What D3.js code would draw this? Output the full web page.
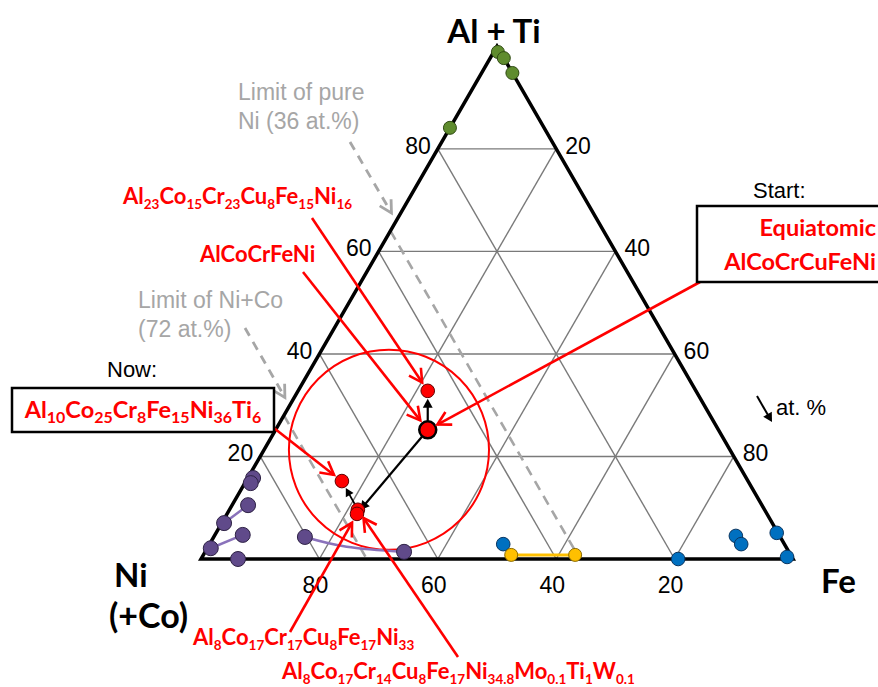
<!DOCTYPE html>
<html>
<head>
<meta charset="utf-8">
<script src="https://cdnjs.cloudflare.com/ajax/libs/d3/7.8.5/d3.min.js"></script>
<style>
  body { margin: 0; background: #fff; }
  svg { display: block; }
</style>
</head>
<body>
<div id="container"></div>
<script>
// every composition is [Ni(+Co), Fe, Al+Ti] in at.%
const ticks = [20, 40, 60, 80];
const greenPts = [[0.4, 0.7, 98.9], [0, 2.3, 97.7], [0, 5.2, 94.8], [15.9, 0, 84.1]];
const purplePts = [[83.3, 0.9, 15.8], [84.2, 1.0, 14.8], [86.8, 2.7, 10.5], [92.6, 0.4, 7.0],
                   [90.6, 4.7, 4.7], [97.3, 0.6, 2.1], [93.75, 6.25, 0], [80.3, 15.4, 4.3], [65, 33.6, 1.4]];
const purpleLines = [
  [[92.6, 0.4, 7.0], [86.8, 2.7, 10.5]],
  [[97.3, 0.6, 2.1], [90.6, 4.7, 4.7]],
  [[80.3, 15.4, 4.3], [74.2, 23.4, 2.4], [65, 33.6, 1.4]]
];
const bluePts = [[19.4, 80.6, 0], [7.4, 88.1, 4.5], [7.3, 89.8, 2.9], [0.2, 94.7, 5.1], [0.8, 98.8, 0.4], [47.5, 49.6, 2.9]];
const yellowPts = [[47.2, 52.0, 0.8], [36.4, 62.8, 0.8]];
// red alloys: Al23.., Al10.. (now), Al8..Cr14.., Al8..Cr17..
const redPts = [[45.3, 21.9, 32.8], [68.6, 16.2, 15.2], [68.7, 21.7, 9.6], [69.25, 21.95, 8.8]];
const startPt = [49.1, 25.7, 25.2];  // equiatomic AlCoCrCuFeNi
const circleCentre = [57.6, 21.1, 21.3];
const circleRadius = 16.9;           // at.% along an edge
const niLimits = [36, 72];
const limitText = [["Limit of pure", "Ni (36 at.%)"], ["Limit of Ni+Co", "(72 at.%)"]];

const w = 878, h = 687;
const x0 = 201, x1 = 793, yBase = 559;
const side = x1 - x0;
const xScale = d3.scaleLinear().domain([0, 100]).range([x0, x1]);
const yScale = d3.scaleLinear().domain([0, 100]).range([yBase, yBase - side * Math.sqrt(3) / 2]);
const proj = (c) => [xScale(c[1] + c[2] / 2), yScale(c[2])];

const svg = d3.select("#container").append("svg").attr("width", w).attr("height", h);

// grid
const grid = [];
ticks.forEach(v => {
  grid.push([[100 - v, 0, v], [0, 100 - v, v]]);        // Al+Ti const
  grid.push([[100 - v, v, 0], [0, v, 100 - v]]);        // Fe const
  grid.push([[v, 100 - v, 0], [v, 0, 100 - v]]);        // Ni const
});
svg.append("g").selectAll("line").data(grid).enter().append("line")
  .attr("x1", d => proj(d[0])[0]).attr("y1", d => proj(d[0])[1])
  .attr("x2", d => proj(d[1])[0]).attr("y2", d => proj(d[1])[1])
  .attr("stroke", "#7a7a7a").attr("stroke-width", 1.4);

// limit lines (dashed)
svg.append("g").selectAll("line").data(niLimits).enter().append("line")
  .attr("x1", d => proj([d, 0, 100 - d])[0]).attr("y1", d => proj([d, 0, 100 - d])[1])
  .attr("x2", d => proj([d, 100 - d, 0])[0]).attr("y2", d => proj([d, 100 - d, 0])[1])
  .attr("stroke", "#a6a6a6").attr("stroke-width", 2.6).attr("stroke-dasharray", "10,7");

// triangle
const tri = [[100, 0, 0], [0, 100, 0], [0, 0, 100]].map(proj);
svg.append("path").attr("d", "M" + tri.join("L") + "Z")
  .attr("fill", "none").attr("stroke", "#000").attr("stroke-width", 3.5);

// tick labels
const tickG = svg.append("g").attr("font-family", "'Liberation Sans', Arial, sans-serif")
  .attr("font-size", 23).attr("fill", "#000");
tickG.selectAll(".tl").data(ticks).enter().append("text")
  .attr("x", d => proj([100 - d, 0, d])[0] - 7).attr("y", d => proj([100 - d, 0, d])[1] + 5)
  .attr("text-anchor", "end").text(d => d);
tickG.selectAll(".tr").data(ticks).enter().append("text")
  .attr("x", d => proj([0, d, 100 - d])[0] + 9).attr("y", d => proj([0, d, 100 - d])[1] + 5)
  .attr("text-anchor", "start").text(d => d);
tickG.selectAll(".tb").data(ticks).enter().append("text")
  .attr("x", d => proj([d, 100 - d, 0])[0] - 4).attr("y", yBase + 34)
  .attr("text-anchor", "middle").text(d => d);

// corner labels
const corner = svg.append("g").attr("font-family", "Lato, sans-serif").attr("font-weight", "bold")
  .attr("font-size", 33).attr("fill", "#000");
corner.append("text").attr("x", 494).attr("y", 43).attr("text-anchor", "middle").text("Al + Ti");
corner.append("text").attr("x", 114).attr("y", 587).text("Ni");
corner.append("text").attr("x", 109).attr("y", 628).attr("font-size", 34).text("(+Co)");
corner.append("text").attr("x", 821).attr("y", 593).text("Fe");

// red circle
svg.append("circle").attr("cx", proj(circleCentre)[0]).attr("cy", proj(circleCentre)[1])
  .attr("r", xScale(circleRadius) - xScale(0))
  .attr("fill", "none").attr("stroke", "#ff0000").attr("stroke-width", 2);

// series lines
const line = d3.line().x(d => proj(d)[0]).y(d => proj(d)[1]).curve(d3.curveNatural);
svg.append("g").selectAll("path").data(purpleLines).enter().append("path")
  .attr("d", line).attr("fill", "none").attr("stroke", "#8a72bb").attr("stroke-width", 2.5);
svg.append("path").attr("d", line(yellowPts)).attr("fill", "none")
  .attr("stroke", "#ffc000").attr("stroke-width", 3);

function dots(data, r, fill, stroke) {
  svg.append("g").selectAll("circle").data(data).enter().append("circle")
    .attr("cx", d => proj(d)[0]).attr("cy", d => proj(d)[1]).attr("r", r)
    .attr("fill", fill).attr("stroke", stroke).attr("stroke-width", 1);
}
dots(greenPts, 6.5, "#5f8c2e", "#2f4a12");
dots(purplePts, 7.5, "#604a8a", "#2e2245");
dots(bluePts, 6.8, "#0070c0", "#0a3560");
dots(yellowPts, 6.5, "#ffc000", "#8a6a00");

// arrow helpers
function arrowPath(p0, p1, cut0, cut1) {
  const dx = p1[0] - p0[0], dy = p1[1] - p0[1], L = Math.hypot(dx, dy);
  const ux = dx / L, uy = dy / L;
  return [[p0[0] + ux * cut0, p0[1] + uy * cut0], [p1[0] - ux * cut1, p1[1] - uy * cut1], ux, uy];
}
function drawArrow(p0, p1, cut0, cut1, color, width, head, filled, dash) {
  const [a, b, ux, uy] = arrowPath(p0, p1, cut0, cut1);
  const g = svg.append("g");
  const endLine = filled ? [b[0] - ux * head * 0.8, b[1] - uy * head * 0.8] : b;
  g.append("line").attr("x1", a[0]).attr("y1", a[1]).attr("x2", endLine[0]).attr("y2", endLine[1])
    .attr("stroke", color).attr("stroke-width", width).attr("stroke-dasharray", dash || null);
  const hw = head * 0.55;
  const l = [b[0] - ux * head - uy * hw, b[1] - uy * head + ux * hw];
  const r = [b[0] - ux * head + uy * hw, b[1] - uy * head - ux * hw];
  if (filled) {
    g.append("path").attr("d", "M" + l + "L" + b + "L" + r + "Z").attr("fill", color);
  } else {
    g.append("path").attr("d", "M" + l + "L" + b + "L" + r)
      .attr("fill", "none").attr("stroke", color).attr("stroke-width", width);
  }
}

// black evolution arrows
drawArrow(proj(startPt), proj(redPts[0]), 9, 8, "#000", 2.2, 9, true);
drawArrow(proj(startPt), proj(redPts[3]), 9, 5, "#000", 2.2, 9, true);
drawArrow(proj(redPts[2]), proj(redPts[1]), 5, 8, "#000", 1.8, 8, true);

// red dots
dots(redPts, 6.8, "#ff0000", "#600000");
svg.append("circle").attr("cx", proj(startPt)[0]).attr("cy", proj(startPt)[1]).attr("r", 8.5)
  .attr("fill", "#ff0000").attr("stroke", "#000").attr("stroke-width", 2.5);

// gray limit labels + dashed arrows
const gray = svg.append("g").attr("font-family", "'Liberation Sans', Arial, sans-serif")
  .attr("font-size", 23).attr("fill", "#a6a6a6");
const limitAnchors = [[238, 100, 350, 142], [138, 308, 245, 328]];
niLimits.forEach((v, i) => {
  const a = limitAnchors[i];
  const t = gray.append("text").attr("x", a[0]).attr("y", a[1]);
  t.append("tspan").attr("x", a[0]).text(limitText[i][0]);
  t.append("tspan").attr("x", a[0]).attr("dy", 29).text(limitText[i][1]);
  const tip = proj([v, 0, 100 - v]);
  drawArrow([a[2], a[3]], [tip[0] + 1, tip[1] - 18], 0, 0, "#a6a6a6", 2.8, 12, false, "9,7");
});

// formula text with subscripts
function formula(g, str, x, y, anchor, sub) {
  const t = g.append("text").attr("x", x).attr("y", y).attr("text-anchor", anchor || "start");
  const parts = str.match(/[A-Z][a-z]?[\d.]*/g);
  let down = false;
  parts.forEach(p => {
    const m = p.match(/([A-Z][a-z]?)([\d.]*)/);
    t.append("tspan").attr("dy", down ? -5 : 0).text(m[1]);
    down = false;
    if (m[2]) {
      t.append("tspan").attr("font-size", sub).attr("dy", 5).text(m[2]);
      down = true;
    }
  });
  return t;
}
const red = svg.append("g").attr("font-family", "Lato, sans-serif").attr("font-weight", "bold")
  .attr("font-size", 22).attr("fill", "#ff0000");

// labels and pointer arrows
const notes = [
  { f: "Al23Co15Cr23Cu8Fe15Ni16", x: 123, y: 204, from: [312, 218], to: redPts[0], cut: 10 },
  { f: "AlCoCrFeNi", x: 200, y: 262, from: [303, 272], to: startPt, cut: 12 },
  { f: "Al8Co17Cr17Cu8Fe17Ni33", x: 193, y: 645, from: [290, 632], to: redPts[3], cut: 10 },
  { f: "Al8Co17Cr14Cu8Fe17Ni34.8Mo0.1Ti1W0.1", x: 282, y: 679, from: [458, 657], to: redPts[2], cut: 10 }
];
notes.forEach(n => {
  formula(red, n.f, n.x, n.y, "start", 13.5);
  drawArrow(n.from, proj(n.to), 0, n.cut, "#ff0000", 2.6, 13, false);
});
drawArrow([700, 282], proj(startPt), 0, 11, "#ff0000", 2.6, 13, false);
drawArrow([270, 425], proj(redPts[1]), 0, 10, "#ff0000", 2.6, 13, false);

// boxes
const plain = svg.append("g").attr("font-family", "'Liberation Sans', Arial, sans-serif")
  .attr("font-size", 22).attr("fill", "#000");
plain.append("text").attr("x", 753).attr("y", 198).text("Start:");
plain.append("text").attr("x", 107).attr("y", 377).text("Now:");
plain.append("text").attr("x", 776).attr("y", 415).text("at. %");
drawArrow([757, 396], [772, 422], 0, 0, "#000", 2, 9, true);

svg.append("rect").attr("x", 697).attr("y", 206).attr("width", 200).attr("height", 76)
  .attr("fill", "#fff").attr("stroke", "#000").attr("stroke-width", 2.5);
const boxText = svg.append("g").attr("font-family", "Lato, sans-serif").attr("font-weight", "bold")
  .attr("font-size", 23.5).attr("fill", "#ff0000");
boxText.append("text").attr("x", 876).attr("y", 236).attr("text-anchor", "end").text("Equiatomic");
boxText.append("text").attr("x", 876).attr("y", 270).attr("text-anchor", "end").text("AlCoCrCuFeNi");

svg.append("rect").attr("x", 12).attr("y", 388).attr("width", 262).attr("height", 44)
  .attr("fill", "#fff").attr("stroke", "#000").attr("stroke-width", 2.5);
const nowText = svg.append("g").attr("font-family", "Lato, sans-serif").attr("font-weight", "bold")
  .attr("font-size", 23.5).attr("fill", "#ff0000");
formula(nowText, "Al10Co25Cr8Fe15Ni36Ti6", 143, 418, "middle", 16);
</script>
</body>
</html>
